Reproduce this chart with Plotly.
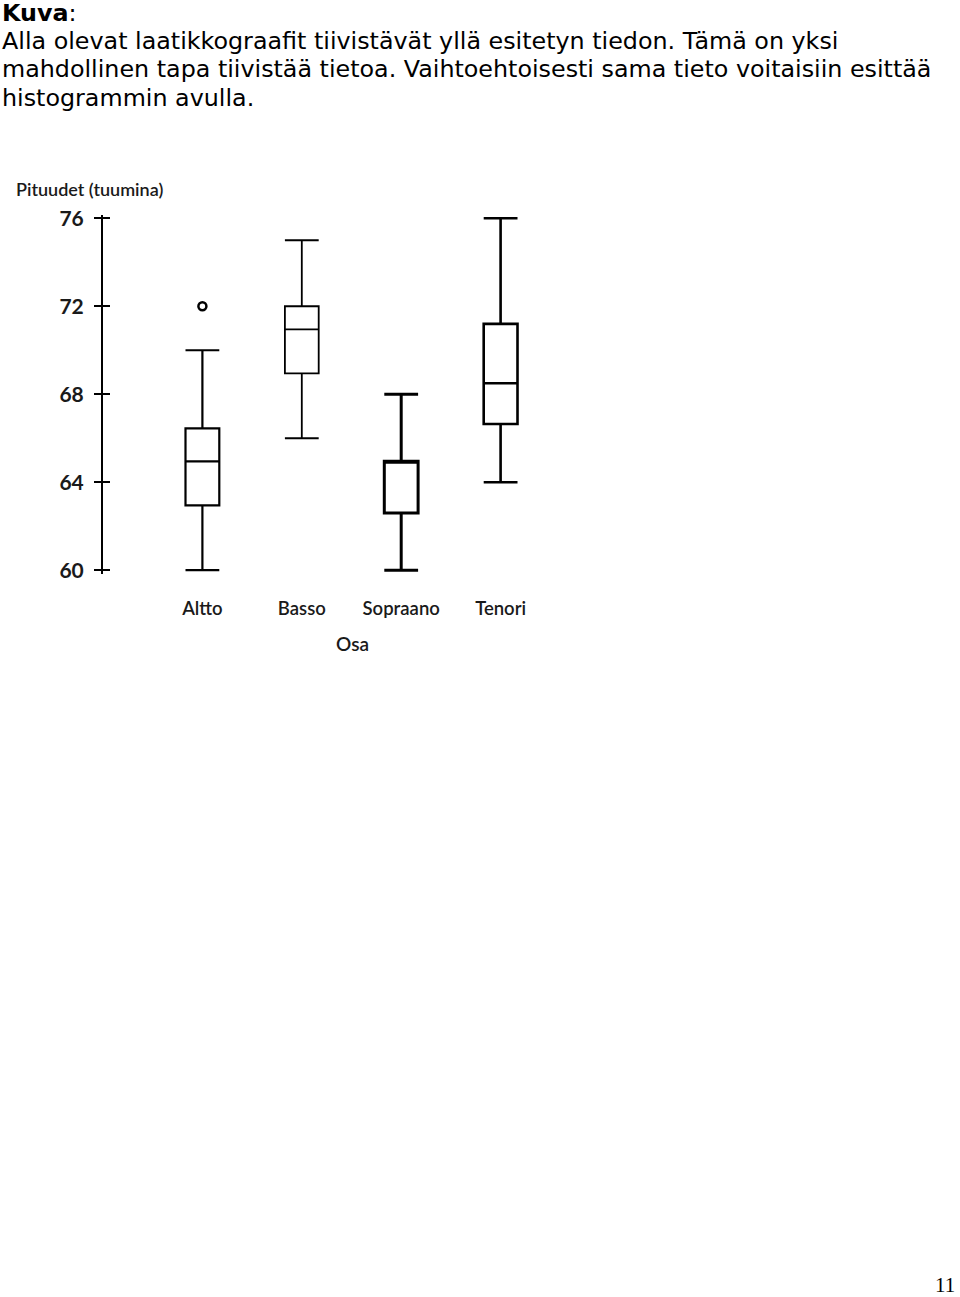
import plotly.graph_objects as go

# ---- data ----
categories = ["Altto", "Basso", "Sopraano", "Tenori"]
lower_whisker = [60, 66, 60, 64]
q1_vals = [62.95, 68.95, 62.6, 66.65]
median_vals = [64.95, 70.95, 64.95, 68.5]
q3_vals = [66.45, 72, 64.95, 71.2]
upper_whisker = [70, 75, 68, 76]
outlier_cat = ["Altto"]
outlier_val = [72]
y_ticks = [60, 64, 68, 72, 76]
line_widths = [2.2, 1.8, 3, 2.6]

intro_lines = [
    "Alla olevat laatikkograafit tiivistävät yllä esitetyn tiedon. Tämä on yksi",
    "mahdollinen tapa tiivistää tietoa. Vaihtoehtoisesti sama tieto voitaisiin esittää",
    "histogrammin avulla.",
]

W, H = 960, 1297

def px_x(p):
    return p / W

def px_y(p):
    # compensate slight vertical compression observed in rendering
    adj = 648.5 + (p - 648.5) / 0.989
    return 1 - adj / H

fig = go.Figure()

for i, cat in enumerate(categories):
    fig.add_trace(go.Box(
        x=[cat],
        q1=[q1_vals[i]], median=[median_vals[i]], q3=[q3_vals[i]],
        lowerfence=[lower_whisker[i]], upperfence=[upper_whisker[i]],
        width=0.34, whiskerwidth=1,
        fillcolor="white",
        line=dict(color="black", width=line_widths[i]),
        boxpoints=False, showlegend=False, hoverinfo="skip",
    ))

fig.add_trace(go.Scatter(
    x=outlier_cat, y=outlier_val, mode="markers", yaxis="y2",
    marker=dict(symbol="circle-open", size=8, color="black", line=dict(width=2.5, color="black")),
    showlegend=False, hoverinfo="skip",
))

yrange = [59.85, 76.15]
ydom = [px_y(572.3), px_y(212.7)]

fig.update_layout(
    width=W, height=H,
    margin=dict(l=0, r=0, t=0, b=0),
    paper_bgcolor="white", plot_bgcolor="white",
    showlegend=False,
    xaxis=dict(
        domain=[px_x(103), px_x(600)],
        type="category", categoryorder="array", categoryarray=categories,
        range=[-1, 4],
        showline=False, showgrid=False, zeroline=False,
        ticks="outside", ticklen=18, tickcolor="rgba(0,0,0,0)",
        tickfont=dict(family="Lato", size=18.5, color="#1a1a1a", weight=600),
    ),
    yaxis=dict(
        domain=ydom, range=yrange,
        tickvals=y_ticks,
        showline=True, linecolor="black", linewidth=2,
        ticks="outside", ticklen=7, tickwidth=2, tickcolor="black",
        showgrid=False, zeroline=False,
        ticklabelstandoff=6,
        tickfont=dict(family="Lato", size=21, color="#1a1a1a", weight=700),
    ),
    yaxis2=dict(
        overlaying="y", anchor="x", side="left", range=yrange,
        tickvals=y_ticks,
        ticks="inside", ticklen=7, tickwidth=2, tickcolor="black",
        showline=False, showgrid=False, zeroline=False, showticklabels=False,
    ),
)

annotations = []
annotations.append(dict(
    x=px_x(0), y=px_y(10), xref="paper", yref="paper",
    xanchor="left", yanchor="middle", showarrow=False,
    text="<b>Kuva</b>:", font=dict(family="DejaVu Sans", size=23.8, color="black"),
))
for k, line in enumerate(intro_lines):
    annotations.append(dict(
        x=px_x(0), y=px_y(38 + 28.6 * k), xref="paper", yref="paper",
        xanchor="left", yanchor="middle", showarrow=False,
        text=line, font=dict(family="DejaVu Sans", size=23.8, color="black"),
    ))
annotations.append(dict(
    x=px_x(14), y=px_y(186.5), xref="paper", yref="paper",
    xanchor="left", yanchor="middle", showarrow=False,
    text="Pituudet (tuumina)", font=dict(family="Lato", size=18, color="#1a1a1a", weight=600),
))
annotations.append(dict(
    x=px_x(352), y=px_y(642.5), xref="paper", yref="paper",
    xanchor="center", yanchor="middle", showarrow=False,
    text="Osa", font=dict(family="Lato", size=19, color="#1a1a1a", weight=600),
))
annotations.append(dict(
    x=px_x(957), y=px_y(1286), xref="paper", yref="paper",
    xanchor="right", yanchor="middle", showarrow=False,
    text="11", font=dict(family="Liberation Serif", size=21, color="black"),
))
fig.update_layout(annotations=annotations)

fig.write_html("out.html")
